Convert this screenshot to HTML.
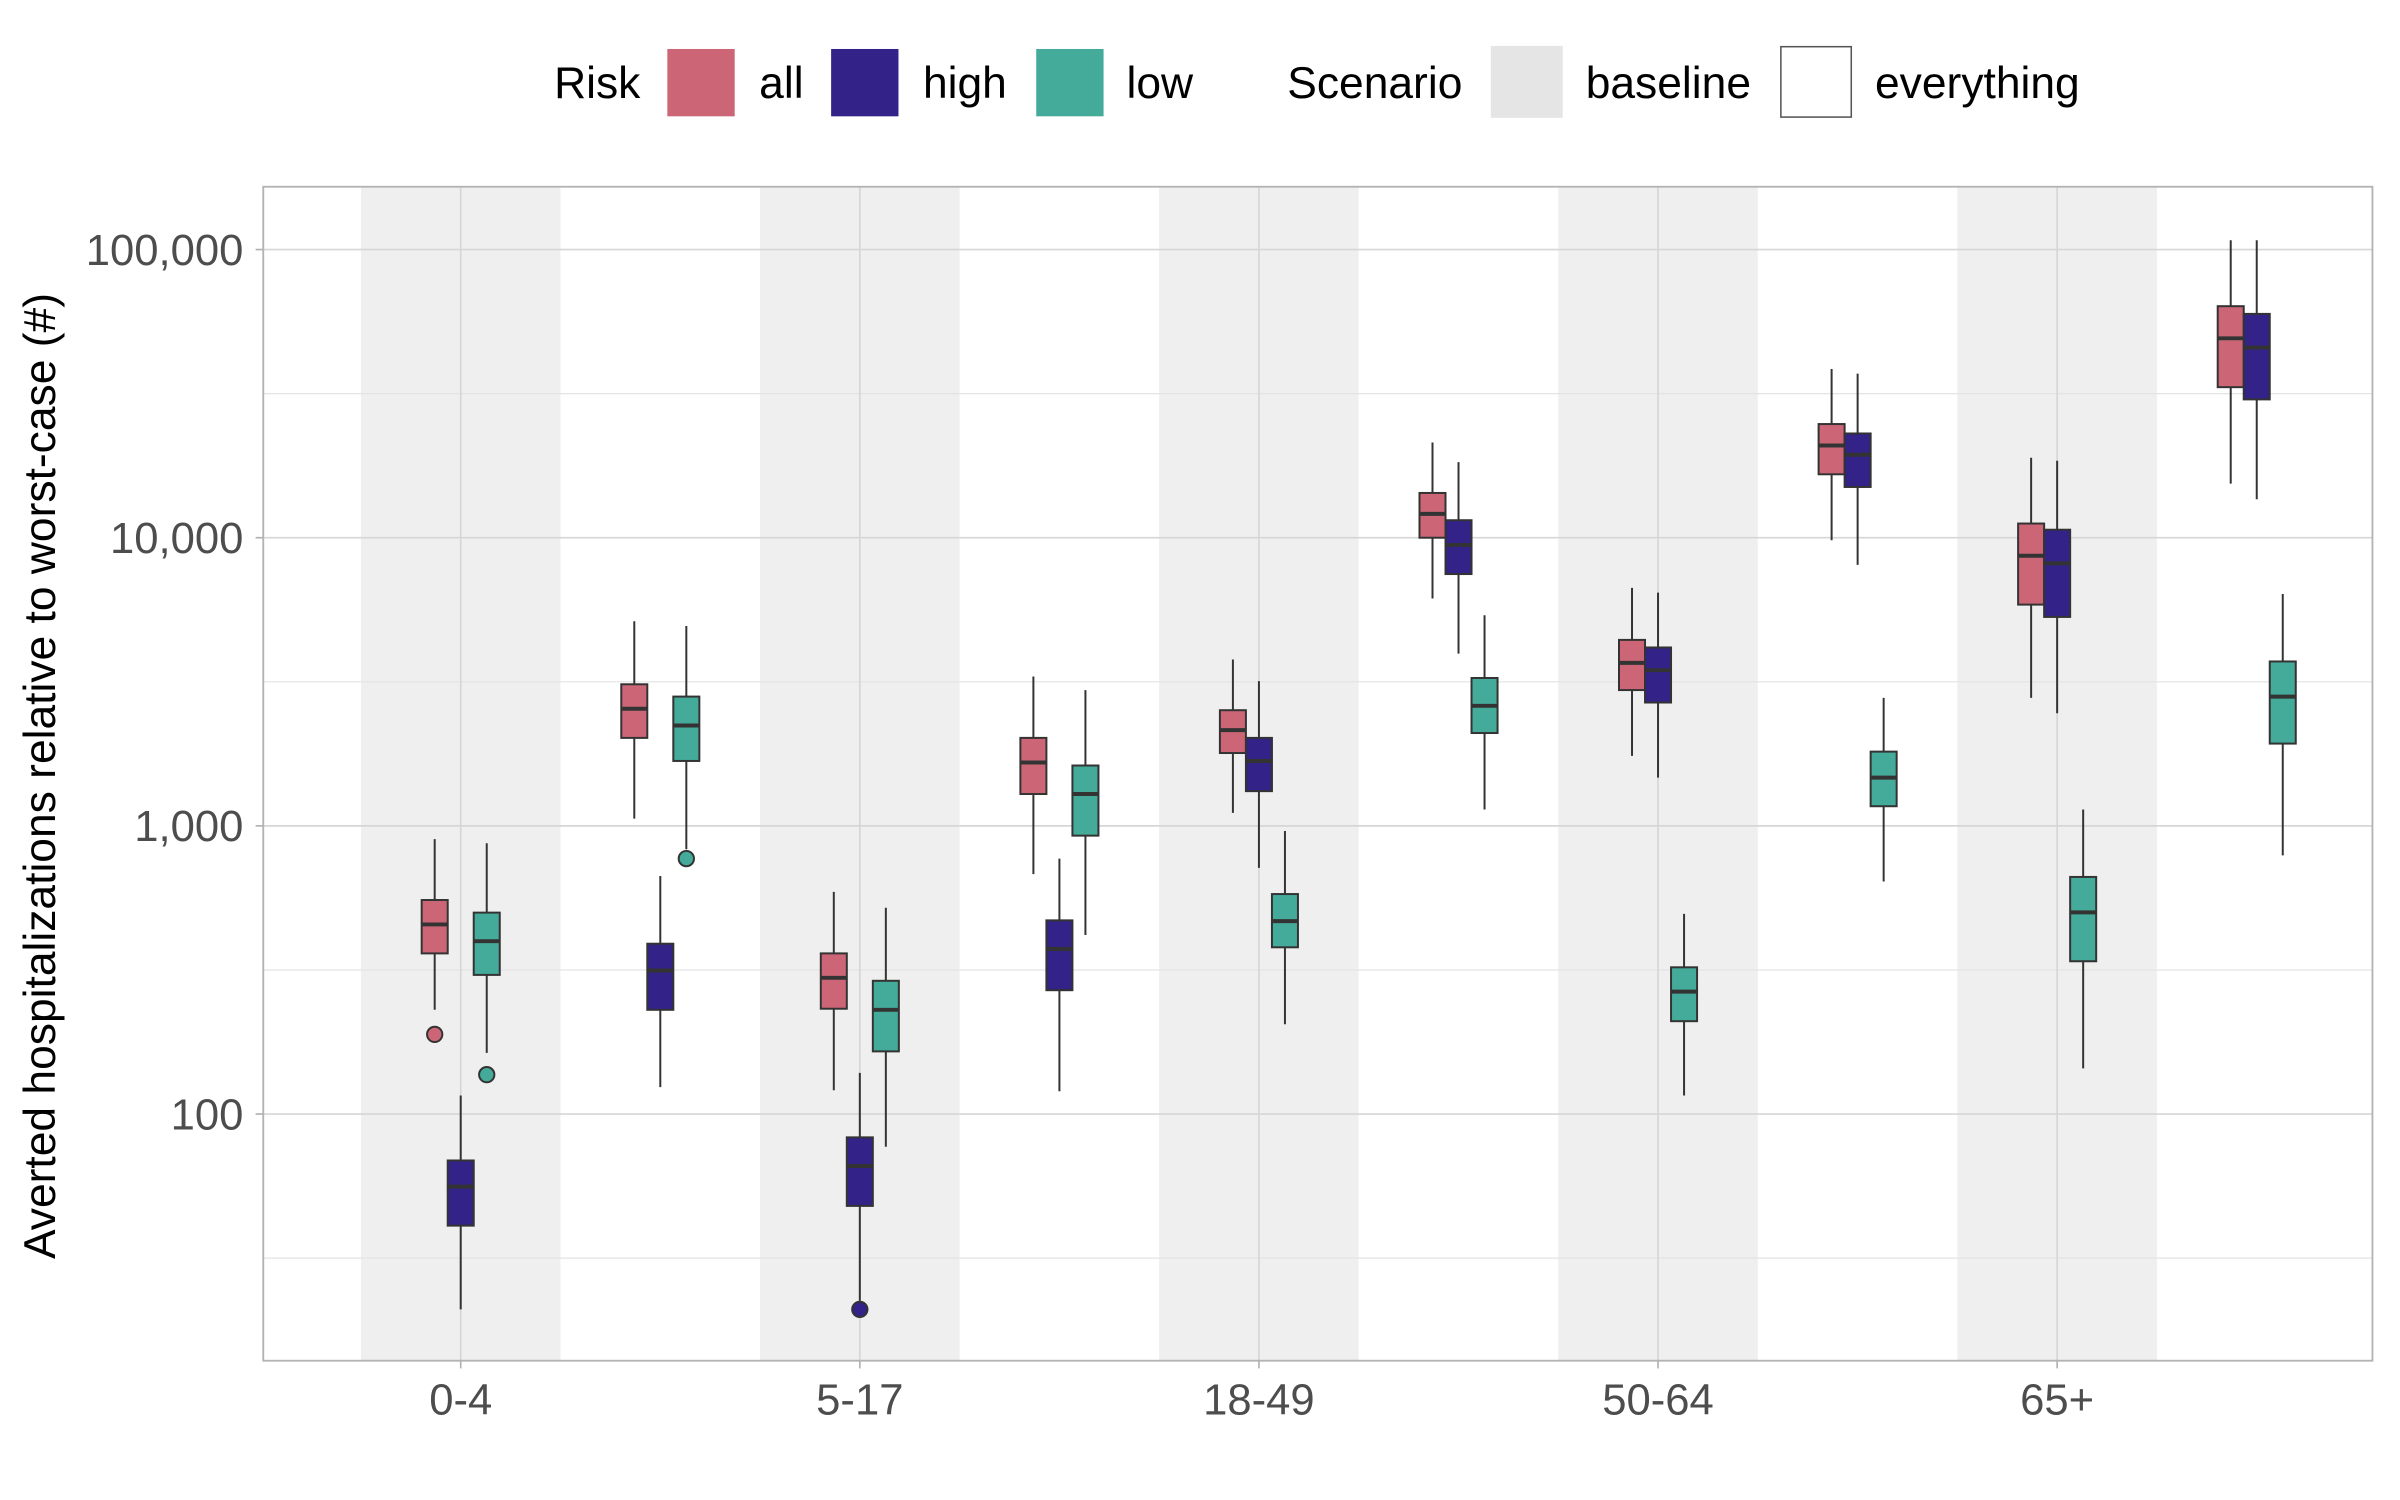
<!DOCTYPE html>
<html><head><meta charset="utf-8"><style>
html,body{margin:0;padding:0;background:#fff;}
svg{display:block;font-family:"Liberation Sans",Arial,sans-serif;}
</style></head><body>
<svg id="chart" width="2400" height="1500" viewBox="0 0 1568 980" xmlns="http://www.w3.org/2000/svg">
<g id="legend">
  <text x="362" y="64" font-size="29" fill="#000">Risk</text>
  <rect x="436" y="32" width="44" height="44" fill="#cc6677"/>
  <text x="496" y="64" font-size="29">all</text>
  <rect x="543" y="32" width="44" height="44" fill="#332288"/>
  <text x="603" y="64" font-size="29">high</text>
  <rect x="677" y="32" width="44" height="44" fill="#44aa99"/>
  <text x="736" y="64" font-size="29">low</text>
  <text x="841" y="64" font-size="29">Scenario</text>
  <rect x="974" y="30" width="47" height="47" fill="#e5e5e5"/>
  <text x="1036" y="64" font-size="29">baseline</text>
  <rect x="1163.5" y="30.5" width="46" height="46" fill="#fff" stroke="#555" stroke-width="1"/>
  <text x="1225" y="64" font-size="29">everything</text>
</g>
<text transform="translate(36,507) rotate(-90)" text-anchor="middle" font-size="29" fill="#000">Averted hospitalizations relative to worst-case (#)</text>
<g id="plot"></g>
</svg>
<script>
const categories = ["0-4","5-17","18-49","50-64","65+"];
const scenarios = ["baseline","everything"];
const risks = ["all","high","low"];
const yTicks = [100,1000,10000,100000];
const yTickLabels = ["100","1,000","10,000","100,000"];
// each entry: [min, q1, median, q3, max], order: category -> scenario -> risk
const stats = [
  [[[230,361,455,553,900],[21,41,56,69,116],[163,304,398,500,870]],
   [[1060,2020,2550,3100,5130],[124,230,315,390,670],[830,1680,2230,2810,4940]]],
  [[[121,232,297,361,590],[22.5,48,66,83,139],[77,165,230,290,520]],
   [[680,1290,1660,2020,3300],[120,269,374,470,770],[418,925,1290,1620,2960]]],
  [[[1110,1790,2150,2520,3780],[715,1320,1680,2020,3180],[205,379,467,580,960]],
   [[6150,10000,12100,14300,21400],[3960,7480,9440,11500,18300],[1140,2100,2610,3260,5380]]],
  [[[1750,2960,3680,4420,6700],[1470,2680,3470,4160,6450],[116,210,266,323,495]],
   [[9800,16600,20900,24800,38500],[8050,15000,19400,23000,37100],[641,1170,1470,1810,2780]]],
  [[[2780,5860,8660,11200,18950],[2460,5310,8150,10660,18500],[144,339,501,665,1140]],
   [[15400,33300,49200,63600,107700],[13600,30200,45700,59800,107700],[790,1930,2810,3720,6380]]]
];
// outliers: [categoryIndex, scenarioIndex, riskIndex, value]
const outliers = [[0,0,0,189],[0,0,2,137],[0,1,2,770],[1,0,1,21]];

const colors = {all:"#cc6677",high:"#332288",low:"#44aa99"};
const P = {l:172,r:1550,t:122,b:889};
const logMin = 1.144, logMax = 5.218;
function yScale(v){ return P.b - (Math.log10(v)-logMin)/(logMax-logMin)*(P.b-P.t); }
const catStep = 260.75, cat0 = 301;
function xCat(i){ return cat0 + i*catStep; }
function xGroup(i,s){ return xCat(i) + s*130.4; }
const boxW = 17;
function xBox(i,s,r){ return xGroup(i,s) + (r-1)*boxW; }

const NS = "http://www.w3.org/2000/svg";
const plot = document.getElementById('plot');
function mk(tag, attrs, parent){
  const e = document.createElementNS(NS, tag);
  for (const k in attrs) e.setAttribute(k, attrs[k]);
  (parent||plot).appendChild(e);
  return e;
}
const bg = mk('rect',{x:P.l,y:P.t,width:P.r-P.l,height:P.b-P.t,fill:'#fff'});


categories.forEach((c,i)=>{
  const b = mk('rect',{x:xGroup(i,0)-65.2,y:P.t,width:130.4,height:P.b-P.t,fill:'#efefef'});
  
  
});
yTicks.forEach(t=>{
  const y = yScale(t*Math.sqrt(10)/10);
  if (y>P.t && y<P.b){
    const g = mk('line',{x1:P.l,x2:P.r,y1:y,y2:y,stroke:'#e3e3e3','stroke-width':0.8});
    
    
  }
});
yTicks.forEach((t,k)=>{
  const y = yScale(t);
  const g = mk('line',{x1:P.l,x2:P.r,y1:y,y2:y,stroke:'#d6d6d6','stroke-width':1.1});
  
  
  const tk = mk('line',{x1:P.l-5,x2:P.l,y1:y,y2:y,stroke:'#b3b3b3','stroke-width':1.1});
  
  
  const lb = mk('text',{x:P.l-13,y:y+10,'text-anchor':'end','font-size':28.5,fill:'#4d4d4d'});
  lb.textContent = yTickLabels[k];
  
  
});
categories.forEach((c,i)=>{
  const x = xCat(i);
  const g = mk('line',{x1:x,x2:x,y1:P.t,y2:P.b,stroke:'#d6d6d6','stroke-width':1.1});
  
  
  const tk = mk('line',{x1:x,x2:x,y1:P.b,y2:P.b+5,stroke:'#b3b3b3','stroke-width':1.1});
  
  
  const lb = mk('text',{x:x,y:P.b+35,'text-anchor':'middle','font-size':28.5,fill:'#4d4d4d'});
  lb.textContent = c;
  
  
});
stats.forEach((cs,i)=>{
  cs.forEach((ss,s)=>{
    ss.forEach((st,r)=>{
      const x = xBox(i,s,r);
      const g = mk('g',{});
      
      
      mk('line',{x1:x,x2:x,y1:yScale(st[4]),y2:yScale(st[0]),stroke:'#333','stroke-width':1.3},g);
      mk('rect',{x:x-boxW/2,y:yScale(st[3]),width:boxW,height:yScale(st[1])-yScale(st[3]),fill:colors[risks[r]],stroke:'#333','stroke-width':1.3},g);
      mk('line',{x1:x-boxW/2,x2:x+boxW/2,y1:yScale(st[2]),y2:yScale(st[2]),stroke:'#333','stroke-width':2.6},g);
    });
  });
});
outliers.forEach(o=>{
  const c = mk('circle',{cx:xBox(o[0],o[1],o[2]),cy:yScale(o[3]),r:5,fill:colors[risks[o[2]]],stroke:'#333','stroke-width':1.3});
  
  
});
const border = mk('rect',{x:P.l,y:P.t,width:P.r-P.l,height:P.b-P.t,fill:'none',stroke:'#b3b3b3','stroke-width':1.2});


</script>
</body></html>
